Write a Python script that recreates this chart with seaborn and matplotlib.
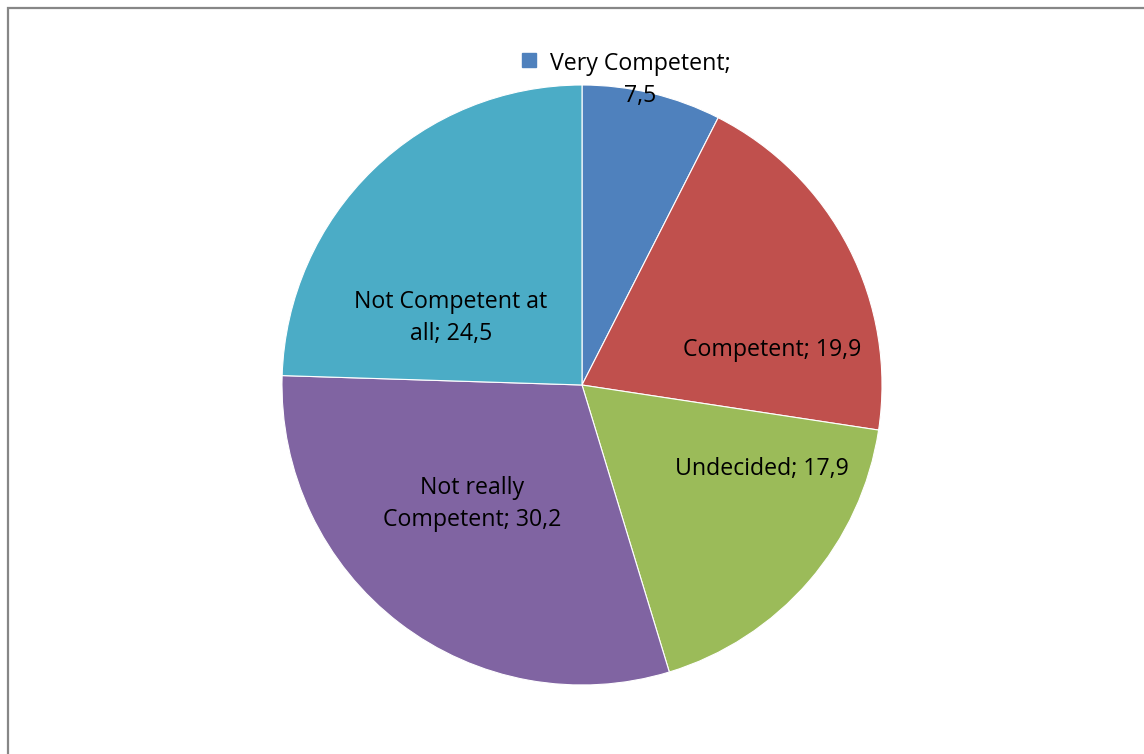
import numpy as np
import seaborn as sns
import matplotlib.pyplot as plt
from matplotlib.patches import Rectangle

# survey answers (percent)
categories = ['Very Competent', 'Competent', 'Undecided', 'Not really Competent', 'Not Competent at all']
values = [7.5, 19.9, 17.9, 30.2, 24.5]
label_texts = ['Very Competent;\n7,5', 'Competent; 19,9', 'Undecided; 17,9',
               'Not really\nCompetent; 30,2', 'Not Competent at\nall; 24,5']

colors = ['#4F81BD', '#C0504D', '#9BBB59', '#8064A2', '#4BACC6']
# where Excel put the data labels (pixel coords, y from top)
label_pos = [(640, 80), (772, 350), (762, 469), (472, 504), (451, 318)]

sns.set_theme(style='white')
plt.rcParams['font.family'] = ['Open Sans', 'DejaVu Sans']

W, H = 1144, 754
fig = plt.figure(figsize=(W / 100, H / 100), dpi=100)
ax = fig.add_axes([0, 0, 1, 1])

cx, cy, r = 582, H - 385, 300
ax.pie(values, colors=colors, startangle=90, counterclock=False,
       center=(cx, cy), radius=r, frame=True,
       wedgeprops=dict(edgecolor='white', linewidth=0.8))
ax.set_xlim(0, W)
ax.set_ylim(0, H)
ax.set_aspect('equal')
ax.axis('off')

for txt, (x, y) in zip(label_texts, label_pos):
    ax.text(x, H - y, txt, ha='center', va='center', fontsize=16.7,
            color='black', linespacing=1.4)

# legend key next to the outside label
ax.add_patch(Rectangle((522, H - 67), 14, 14, color=colors[0]))

# chart border
ax.add_patch(Rectangle((8, -10), W, H - 8 + 10, fill=False, edgecolor='#878787', linewidth=1.6))

fig.savefig('out.png', dpi=100)
